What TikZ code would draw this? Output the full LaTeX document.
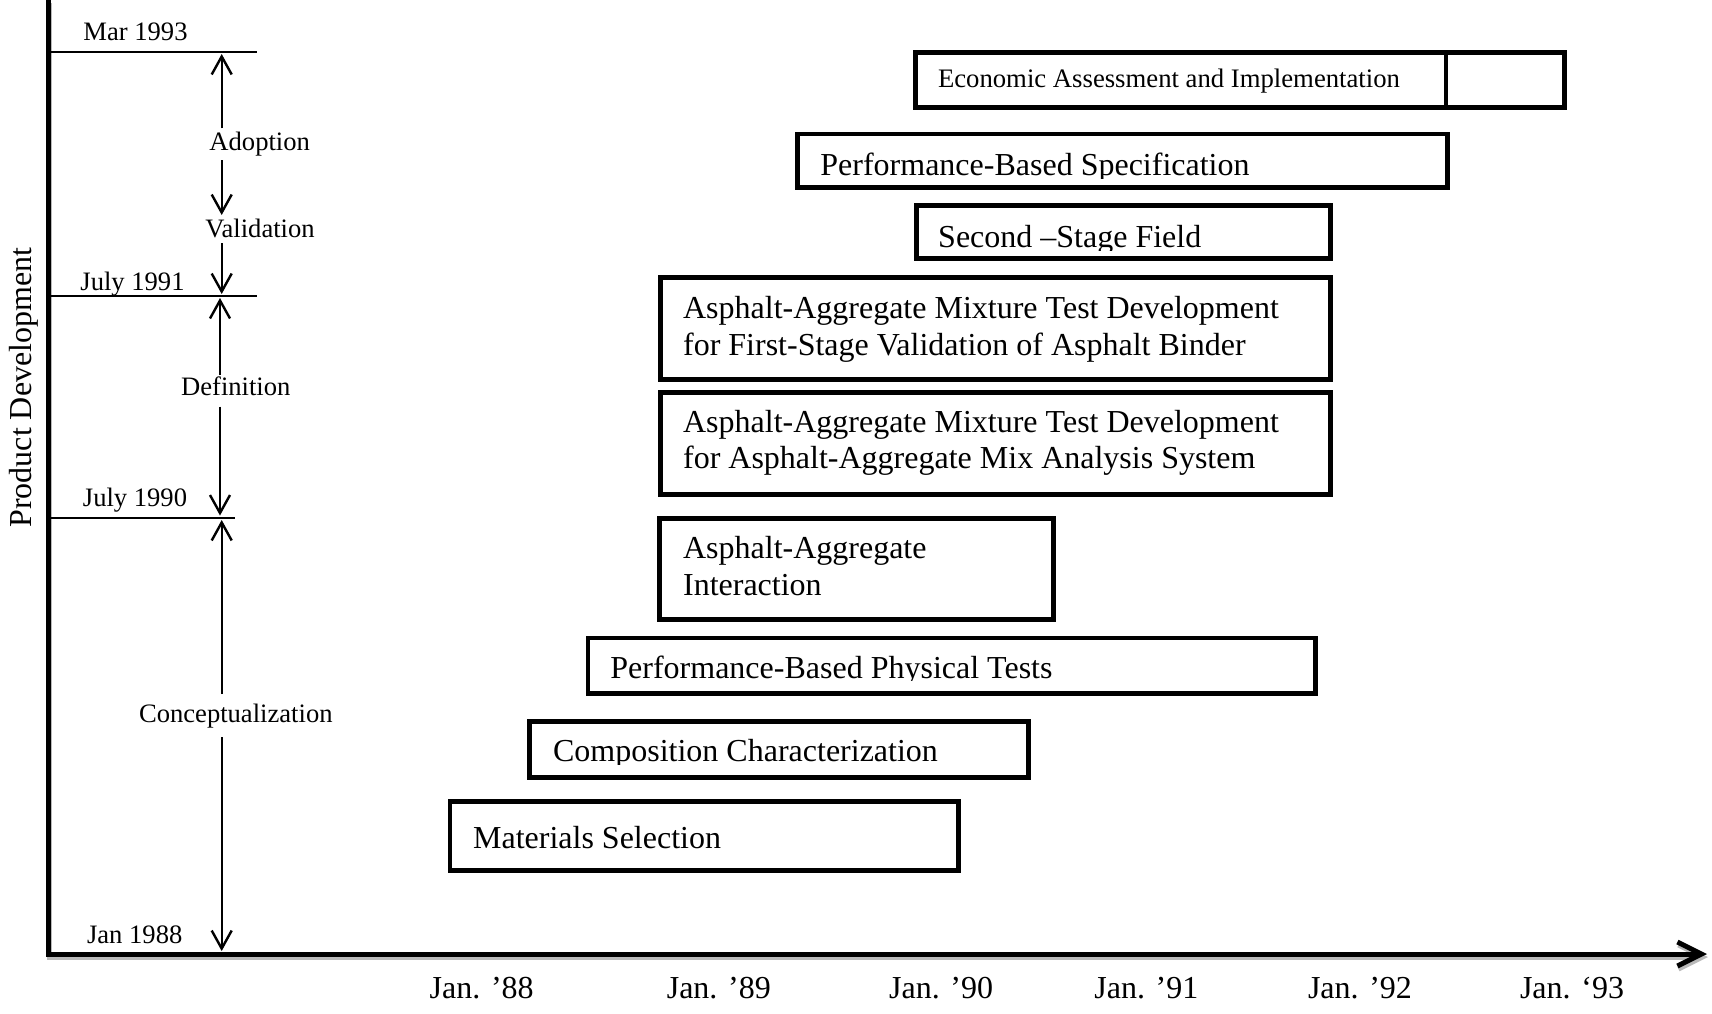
\documentclass[tikz,border=0pt]{standalone}
\usepackage{fontspec}
\setmainfont{Liberation Serif}
\usetikzlibrary{arrows.meta,fit}

% a framed task bar, given by its outer edges
\newcommand\taskbox[5]{\node[box, fit={(#2+2.3,#3+2.3) (#4-2.3,#5-2.3)}] (#1) {};}
% a one-line bar caption whose descenders are cut off just under the baseline
\newcommand\cutcaption[4]{%
  \begin{scope}
    \clip (#2-10,#3-45) rectangle (#2+900,#3+2.5);
    \node[big] (#1) at (#2,#3) {#4};
  \end{scope}}

\begin{document}
\begin{tikzpicture}[x=0.5pt,y=-0.5pt,
  boxline/.style={line width=2.3pt},
  box/.style={draw, boxline, inner sep=0pt, outer sep=0pt},
  big/.style={font=\fontsize{16}{18.35}\selectfont, inner sep=0pt, anchor=base west, align=left},
  econfont/.style={font=\fontsize{13.35}{16}\selectfont, inner sep=0pt, anchor=base west},
  small/.style={font=\fontsize{13.3}{15}\selectfont, inner sep=0pt, anchor=base},
  yearlbl/.style={font=\fontsize{16}{18}\selectfont, inner sep=0pt, anchor=base},
  tick/.style={line width=1pt},
  span/.style={line width=1.2pt, -{Straight Barb[length=9pt,width=10pt]}},
  axisline/.style={line width=2.5pt, line join=miter, -{Straight Barb[length=12pt,width=12pt]}}
]
\useasboundingbox (0,0) rectangle (1712,1013);

% ---- axes ----
\coordinate (ytop) at (48.7,0);
\coordinate (yo)   at (48.7,954);
\coordinate (xtip) at (1707,954);
\draw[axisline, gray!55, transform canvas={shift={(1,3)}}] (ytop) -- (yo) -- (xtip);
\draw[axisline] (ytop) -- (yo) -- (xtip);

\node[font=\fontsize{16}{18}\selectfont, rotate=90, inner sep=0pt] (ylabel) at (24,387.6) {Product Development};

% ---- milestone lines ----
\coordinate (mar)  at (256.7,52);
\coordinate (j91)  at (256.7,295.7);
\coordinate (j90)  at (235,517.7);
\draw[tick] (mar -| yo) -- (mar);
\draw[tick] (j91 -| yo) -- (j91);
\draw[tick] (j90 -| yo) -- (j90);

\node[small] (lmar)   at (135.5,40)    {Mar 1993};
\node[small] (lj91)   at (132.5,290)   {July 1991};
\node[small] (lj90)   at (135,506.7)   {July 1990};
\node[small] (lj88)   at (134.7,943.3) {Jan 1988};

% ---- phase labels ----
\node[small] (ladopt) at (259.7,150)   {Adoption};
\node[small] (lvalid) at (260,237)     {Validation};
\node[small] (ldef)   at (235.8,395.7) {Definition};
\node[small] (lconc)  at (235.8,722.8) {Conceptualization};

% ---- phase span arrows ----
\coordinate (a1) at (221.7,128.3); \coordinate (a1t) at (221.7,54);
\coordinate (a2) at (221.7,160);   \coordinate (a2t) at (221.7,215);
\coordinate (a3) at (221.7,243.3); \coordinate (a3t) at (221.7,294);
\coordinate (d1) at (220,375);     \coordinate (d1t) at (220,298);
\coordinate (d2) at (220,406.7);   \coordinate (d2t) at (220,515.5);
\coordinate (c1) at (221.7,694);   \coordinate (c1t) at (221.7,520);
\coordinate (c2) at (221.7,737);   \coordinate (c2t) at (221.7,951);
\draw[span] (a1) -- (a1t);
\draw[span] (a2) -- (a2t);
\draw[span] (a3) -- (a3t);
\draw[span] (d1) -- (d1t);
\draw[span] (d2) -- (d2t);
\draw[span] (c1) -- (c1t);
\draw[span] (c2) -- (c2t);

% ---- task bars ----
\taskbox{econ}{913}{50}{1567}{110}
\coordinate (div) at (1446,80);
\draw[boxline] (econ.north -| div) -- (econ.south -| div);
\taskbox{spec}{795}{131.7}{1450}{190}
\taskbox{field}{914}{203.3}{1333}{261}
\taskbox{binder}{658.4}{275}{1333}{382}
\taskbox{mixsys}{658.4}{390}{1333}{496.6}
\taskbox{interact}{657.3}{516}{1055.6}{621.7}
\taskbox{phys}{585.7}{635.7}{1317.6}{696}
\taskbox{comp}{527.3}{719.3}{1030.5}{780}
\taskbox{mat}{447.7}{799.3}{960.6}{872.7}

\node[econfont] (econ-t)     at (937.6,87.6)  {Economic Assessment and Implementation};
\cutcaption{spec-t}{820}{175.5}{Performance-Based Specification}
\cutcaption{field-t}{937.8}{247.8}{Second –Stage Field}
\node[big]      (binder-t)   at (682.7,355.3) {Asphalt-Aggregate Mixture Test Development\\for First-Stage Validation of Asphalt Binder};
\node[big]      (mixsys-t)   at (682.7,468.8) {Asphalt-Aggregate Mixture Test Development\\for Asphalt-Aggregate Mix Analysis System};
\node[big]      (interact-t) at (682.7,595)   {Asphalt-Aggregate\\Interaction};
\cutcaption{phys-t}{610}{678.3}{Performance-Based Physical Tests}
\cutcaption{comp-t}{552.7}{761.7}{Composition Characterization}
\node[big]      (mat-t)      at (472.7,848.3) {Materials Selection};

% ---- time axis labels ----
\node[yearlbl] (x88) at (481.7,998.3) {Jan. ’88};
\node[yearlbl] (x89) at (718.8,998.3) {Jan. ’89};
\node[yearlbl] (x90) at (941.1,998.3) {Jan. ’90};
\node[yearlbl] (x91) at (1146.4,998.3) {Jan. ’91};
\node[yearlbl] (x92) at (1360,998.3) {Jan. ’92};
\node[yearlbl] (x93) at (1572,998.3) {Jan. ‘93};
\end{tikzpicture}
\end{document}
